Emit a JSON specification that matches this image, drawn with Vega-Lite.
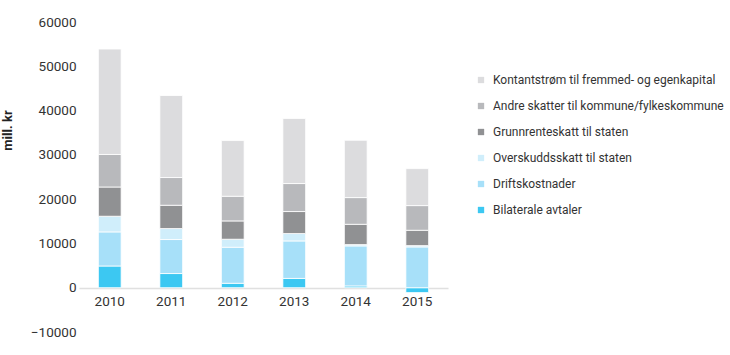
{
  "$schema": "https://vega.github.io/schema/vega-lite/v6.json",
  "autosize": "none",
  "width": 369,
  "height": 310,
  "padding": {"left": 79, "top": 22, "right": 282, "bottom": 23},
  "config": {
    "view": {"stroke": null},
    "font": "Roboto",
    "axis": {"labelFont": "Roboto", "labelFontSize": 13.5, "labelColor": "#333333"},
    "legend": {"labelFont": "Roboto", "labelFontSize": 12, "labelColor": "#333333"}
  },
  "data": {
    "values": [
      {"year": "2010", "serie": "Bilaterale avtaler", "value": 4900},
      {"year": "2010", "serie": "Driftskostnader", "value": 7700},
      {"year": "2010", "serie": "Overskuddsskatt til staten", "value": 3540},
      {"year": "2010", "serie": "Grunnrenteskatt til staten", "value": 6600},
      {"year": "2010", "serie": "Andre skatter til kommune/fylkeskommune", "value": 7350},
      {"year": "2010", "serie": "Kontantstrøm til fremmed- og egenkapital", "value": 23800},
      {"year": "2011", "serie": "Bilaterale avtaler", "value": 3200},
      {"year": "2011", "serie": "Driftskostnader", "value": 7680},
      {"year": "2011", "serie": "Overskuddsskatt til staten", "value": 2480},
      {"year": "2011", "serie": "Grunnrenteskatt til staten", "value": 5260},
      {"year": "2011", "serie": "Andre skatter til kommune/fylkeskommune", "value": 6260},
      {"year": "2011", "serie": "Kontantstrøm til fremmed- og egenkapital", "value": 18520},
      {"year": "2012", "serie": "Bilaterale avtaler", "value": 1000},
      {"year": "2012", "serie": "Driftskostnader", "value": 8140},
      {"year": "2012", "serie": "Overskuddsskatt til staten", "value": 1810},
      {"year": "2012", "serie": "Grunnrenteskatt til staten", "value": 4130},
      {"year": "2012", "serie": "Andre skatter til kommune/fylkeskommune", "value": 5570},
      {"year": "2012", "serie": "Kontantstrøm til fremmed- og egenkapital", "value": 12580},
      {"year": "2013", "serie": "Bilaterale avtaler", "value": 2100},
      {"year": "2013", "serie": "Driftskostnader", "value": 8460},
      {"year": "2013", "serie": "Overskuddsskatt til staten", "value": 1670},
      {"year": "2013", "serie": "Grunnrenteskatt til staten", "value": 4970},
      {"year": "2013", "serie": "Andre skatter til kommune/fylkeskommune", "value": 6320},
      {"year": "2013", "serie": "Kontantstrøm til fremmed- og egenkapital", "value": 14680},
      {"year": "2014", "serie": "Bilaterale avtaler", "value": 400},
      {"year": "2014", "serie": "Driftskostnader", "value": 9040},
      {"year": "2014", "serie": "Overskuddsskatt til staten", "value": 300},
      {"year": "2014", "serie": "Grunnrenteskatt til staten", "value": 4580},
      {"year": "2014", "serie": "Andre skatter til kommune/fylkeskommune", "value": 6030},
      {"year": "2014", "serie": "Kontantstrøm til fremmed- og egenkapital", "value": 12940},
      {"year": "2015", "serie": "Bilaterale avtaler", "value": -1100},
      {"year": "2015", "serie": "Driftskostnader", "value": 9210},
      {"year": "2015", "serie": "Overskuddsskatt til staten", "value": 300},
      {"year": "2015", "serie": "Grunnrenteskatt til staten", "value": 3460},
      {"year": "2015", "serie": "Andre skatter til kommune/fylkeskommune", "value": 5570},
      {"year": "2015", "serie": "Kontantstrøm til fremmed- og egenkapital", "value": 8350}
    ]
  },
  "transform": [
    {"calculate": "indexof(['Bilaterale avtaler','Driftskostnader','Overskuddsskatt til staten','Grunnrenteskatt til staten','Andre skatter til kommune/fylkeskommune','Kontantstrøm til fremmed- og egenkapital'], datum.serie)", "as": "stackIdx"}
  ],
  "mark": {"type": "bar", "stroke": "#ffffff", "strokeWidth": 0.8},
  "encoding": {
    "x": {
      "field": "year", "type": "ordinal",
      "scale": {"paddingInner": 0.63, "paddingOuter": 0.315},
      "axis": {"title": null, "labelAngle": 0, "ticks": false, "domainColor": "#e0e0e0", "domainWidth": 1.5, "offset": -44, "labelPadding": 6}
    },
    "y": {
      "field": "value", "type": "quantitative",
      "scale": {"domain": [-10000, 60000], "nice": false, "zero": false},
      "axis": {"values": [-10000, 0, 10000, 20000, 30000, 40000, 50000, 60000], "format": "d", "grid": false, "domain": false, "ticks": false, "labelPadding": 3,
        "title": "mill. kr", "titleFont": "Roboto", "titleFontWeight": "bold", "titleFontSize": 13, "titleColor": "#222222", "titleX": -65, "titleY": 108}
    },
    "color": {
      "field": "serie", "type": "nominal",
      "scale": {
        "domain": ["Kontantstrøm til fremmed- og egenkapital", "Andre skatter til kommune/fylkeskommune", "Grunnrenteskatt til staten", "Overskuddsskatt til staten", "Driftskostnader", "Bilaterale avtaler"],
        "range": ["#dcdcde", "#b8b9bc", "#909193", "#d0eefb", "#a7e0f9", "#3cc8f2"]
      },
      "legend": {"title": null, "orient": "none", "legendX": 396, "legendY": 52, "symbolType": "square", "symbolSize": 40, "symbolStrokeWidth": 0, "rowPadding": 14, "labelOffset": 6, "labelLimit": 300}
    },
    "order": {"field": "stackIdx", "type": "quantitative"}
  }
}
